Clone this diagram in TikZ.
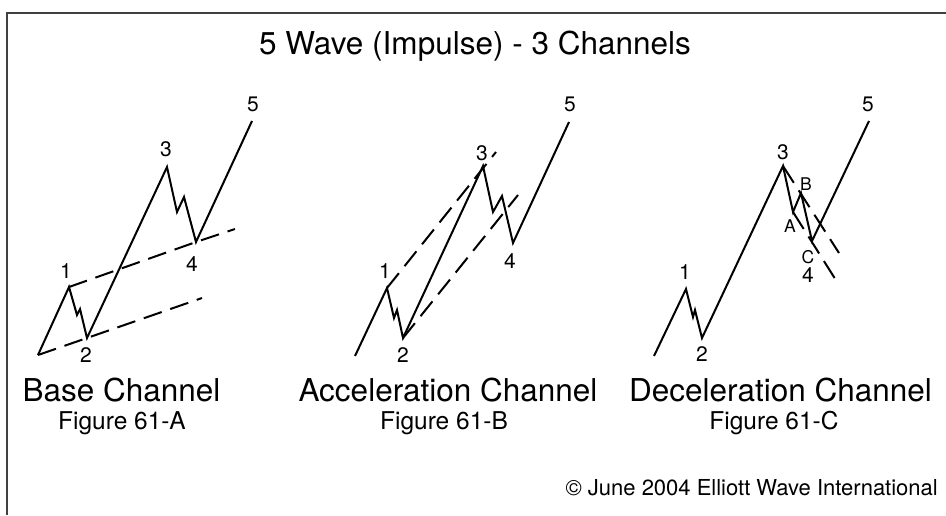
\documentclass[tikz,border=0pt]{standalone}
\usepackage{fontspec}
\setmainfont{TeX Gyre Heros}
\usetikzlibrary{positioning,calc}

\begin{document}
\begin{tikzpicture}[
  x=1pt, y=-1pt,
  wave/.style={draw, line width=2pt, line join=miter},
  chan/.style={draw, line width=2pt, dash pattern=on 19pt off 9pt},
  num/.style={font=\fontsize{21}{24}\selectfont, inner sep=0pt},
  abc/.style={font=\fontsize{17.5}{20}\selectfont, inner sep=0pt},
  ttl/.style={font=\fontsize{31.5}{36}\selectfont, inner sep=0pt, anchor=base},
  fig/.style={font=\fontsize{24.5}{28}\selectfont, inner sep=0pt, anchor=base},
  boxline/.style={draw=black!75, line width=1.5pt}
]
\useasboundingbox (0,0) rectangle (946,515);
\coordinate (tl) at (7,13);
\coordinate (tr) at (946,13);
\coordinate (bl) at (7,515);
\draw[boxline] (tr) -- (tl) -- (bl);
\node[font=\fontsize{31.5}{36}\selectfont, inner sep=0pt, anchor=base] (title) at (475,54) {5 Wave (Impulse) - 3 Channels};

\coordinate (a0) at (38,355);
\coordinate (a1) at (69,287);
\coordinate (a1x) at (77,315);
\coordinate (a1y) at (80,309);
\coordinate (a2) at (87,338);
\coordinate (a3) at (167,167);
\coordinate (a3x) at (177,212);
\coordinate (a3y) at (184,197);
\coordinate (a4) at (196,242);
\coordinate (a5) at (252,121);
\coordinate (alo) at (202,298);
\coordinate (ahi) at (235,229);
\draw[chan] (a0) -- (a2) -- (alo);
\draw[chan] (a1) -- (a4) -- (ahi);
\draw[wave] (a0) -- (a1) -- (a1x) -- (a1y) -- (a2) -- (a3) -- (a3x) -- (a3y) -- (a4) -- (a5);
\node[num] (na1) at (66,271) {1};
\node[num] (na2) at (86,355) {2};
\node[num] (na3) at (166,149) {3};
\node[num] (na4) at (192,264) {4};
\node[num] (na5) at (253,104) {5};
\node[ttl] (ta) at (121.5,401) {Base Channel};
\node[fig] (fa) at (122,429) {Figure 61-A};

\coordinate (b0) at (355,356);
\coordinate (b1) at (387,288);
\coordinate (b1x) at (394,318);
\coordinate (b1y) at (397,310);
\coordinate (b2) at (403,338);
\coordinate (b3) at (483,166);
\coordinate (b3x) at (493,212);
\coordinate (b3y) at (502,196);
\coordinate (b4) at (513,243);
\coordinate (b5) at (569,122);
\coordinate (bhi) at (496,152);
\coordinate (blo) at (518,195);
\draw[chan] (b1) -- (bhi);
\draw[chan] (b2) -- (blo);
\draw[wave] (b0) -- (b1) -- (b1x) -- (b1y) -- (b2) -- (b3) -- (b3x) -- (b3y) -- (b4) -- (b5);
\node[num] (nb1) at (385,271) {1};
\node[num] (nb2) at (403,355) {2};
\node[num] (nb3) at (482,153) {3};
\node[num] (nb4) at (510,261) {4};
\node[num] (nb5) at (570,104) {5};
\node[ttl] (tb) at (448,401) {Acceleration Channel};
\node[fig] (fb) at (444,429) {Figure 61-B};

\coordinate (c0) at (654,356);
\coordinate (c1) at (686,289);
\coordinate (c1x) at (693,317);
\coordinate (c1y) at (695,310);
\coordinate (c2) at (702,338);
\coordinate (c3) at (783,166);
\coordinate (cA) at (793,212);
\coordinate (cB) at (801,193);
\coordinate (cC) at (812,241);
\coordinate (c5) at (869,121);
\coordinate (chi) at (839,253);
\coordinate (clo) at (839,285);
\draw[chan, dash pattern=on 20pt off 9pt] (c3) -- (chi);
\draw[chan, dash pattern=on 20pt off 9pt] (cA) -- (clo);
\draw[wave] (c0) -- (c1) -- (c1x) -- (c1y) -- (c2) -- (c3) -- (cA) -- (cB) -- (cC) -- (c5);
\node[num] (nc1) at (685,272) {1};
\node[num] (nc2) at (702,354) {2};
\node[num] (nc3) at (783,152) {3};
\node[num] (nc4) at (808,275) {4};
\node[num] (nc5) at (868,104) {5};
\node[abc] (ncA) at (790,226) {A};
\node[abc] (ncB) at (806,184) {B};
\node[abc] (ncC) at (808,257) {C};
\node[ttl] (tc) at (780.5,401) {Deceleration Channel};
\node[fig] (fc) at (774,429) {Figure 61-C};

\node[font=\fontsize{22}{26}\selectfont, inner sep=0pt, anchor=base east] (copy) at (938,495) {© June 2004 Elliott Wave International};
\end{tikzpicture}
\end{document}
